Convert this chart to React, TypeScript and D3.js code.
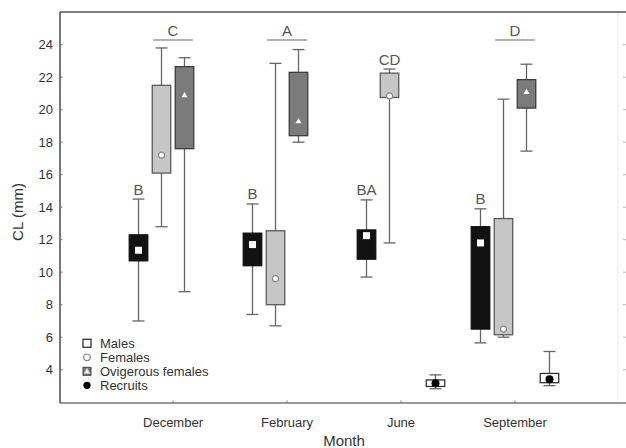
import React from "react";
import * as d3 from "d3";

const months = ["December", "February", "June", "September"];
const seriesNames = ["Males", "Females", "Ovigerous females", "Recruits"];
const yTicks = [4, 6, 8, 10, 12, 14, 16, 18, 20, 22, 24];

// per series: [min, q1, mean, q3, max] per month (null = absent)
const males = [
  [7.0, 10.7, 11.35, 12.3, 14.5],
  [7.4, 10.4, 11.7, 12.4, 14.2],
  [9.7, 10.8, 12.25, 12.6, 14.45],
  [5.65, 6.5, 11.8, 12.8, 13.9],
];
const females = [
  [12.8, 16.1, 17.2, 21.5, 23.8],
  [6.7, 8.0, 9.6, 12.55, 22.85],
  [11.8, 20.75, 20.85, 22.25, 22.5],
  [6.0, 6.15, 6.5, 13.3, 20.65],
];
const ovigerous = [
  [8.8, 17.6, 20.9, 22.65, 23.2],
  [18.0, 18.4, 19.3, 22.3, 23.7],
  null,
  [17.45, 20.1, 21.1, 21.85, 22.8],
];
const recruits = [
  null,
  null,
  [2.83, 2.97, 3.16, 3.37, 3.68],
  [3.02, 3.2, 3.41, 3.77, 5.12],
];

// letters over single boxes: [monthIndex, seriesIndex, text]
const boxLetters: [number, number, string][] = [
  [0, 0, "B"],
  [1, 0, "B"],
  [2, 0, "BA"],
  [3, 0, "B"],
  [2, 1, "CD"],
];
// group letters with bar: [monthIndex, text]
const groupLetters: [number, string][] = [
  [0, "C"],
  [1, "A"],
  [3, "D"],
];

const W = 626;
const H = 448;
const left = 60;
const right = 618;
const top = 12;
const bottom = 403;

const styles = [
  { fill: "#121212", stroke: "#111", marker: "square" },
  { fill: "#c6c6c6", stroke: "#5a5a5a", marker: "circle" },
  { fill: "#7b7b7b", stroke: "#3c3c3c", marker: "triangle" },
  { fill: "#ffffff", stroke: "#333", marker: "dot" },
];

const allSeries = [males, females, ovigerous, recruits];

function Marker({ type, x, y, legend }: { type: string; x: number; y: number; legend?: boolean }) {
  if (type === "square") {
    const s = legend ? 8 : 7;
    return (
      <rect x={x - s / 2} y={y - s / 2} width={s} height={s} fill="#fff" stroke={legend ? "#333" : "none"} strokeWidth={1.3} />
    );
  }
  if (type === "circle") {
    return <circle cx={x} cy={y} r={legend ? 3.3 : 3} fill="#fff" stroke="#888" strokeWidth={1.2} />;
  }
  if (type === "triangle") {
    const s = 3;
    return (
      <g>
        {legend && <rect x={x - 4} y={y - 4} width={8} height={8} fill="#777" stroke="#444" strokeWidth={1} />}
        <path d={`M${x},${y - s}L${x + s},${y + s * 0.7}L${x - s},${y + s * 0.7}Z`} fill="#fff" stroke={legend ? "#bbb" : "none"} strokeWidth={0.8} />
      </g>
    );
  }
  return <circle cx={x} cy={y} r={legend ? 3.6 : 4} fill="#000" />;
}

export default function App() {
  const y = d3.scaleLinear().domain([2, 26]).range([bottom + 0.1, top + 0.1]);
  // scale check: 24 -> ~44.7
  const yv = d3.scaleLinear().domain([4, 24]).range([369.7, 44.7]);
  const x = d3.scalePoint<string>().domain(months).range([173, 515]);
  const xs = d3.scaleBand<string>().domain(seriesNames).range([-46, 46]);
  const bw = 18.5;
  const capW = 12;
  const font = "'Liberation Sans', Arial, sans-serif";

  return (
    <svg width={W} height={H} style={{ position: "absolute", left: 0, top: 0, background: "#fff" }} fontFamily={font}>
      <rect x={0} y={0} width={W} height={H} fill="#fff" />
      {/* frame */}
      <line x1={right} x2={right} y1={top} y2={bottom} stroke="#ececec" strokeWidth={1} />
      <line x1={left} x2={W} y1={top} y2={top} stroke="#555" strokeWidth={1.6} />
      <line x1={left} x2={W} y1={bottom} y2={bottom} stroke="#777" strokeWidth={1.6} />
      <line x1={left} x2={left} y1={top} y2={bottom} stroke="#555" strokeWidth={1.6} />
      {/* y ticks */}
      {yTicks.map((t) => (
        <g key={t}>
          <line x1={left} x2={left + 2.5} y1={yv(t)} y2={yv(t)} stroke="#777" strokeWidth={1} />
          <line x1={right + 5} x2={right + 8} y1={yv(t)} y2={yv(t)} stroke="#bbb" strokeWidth={1} />
          <text x={53} y={yv(t)} dy="0.35em" textAnchor="end" fontSize={13} fill="#333">
            {t}
          </text>
        </g>
      ))}
      {/* x ticks */}
      {months.map((m) => (
        <g key={m}>
          <line x1={x(m)!} x2={x(m)!} y1={bottom} y2={bottom - 2.5} stroke="#777" strokeWidth={1} />
          <text x={x(m)!} y={427} textAnchor="middle" fontSize={13} fill="#333">
            {m}
          </text>
        </g>
      ))}
      <text x={344} y={446} textAnchor="middle" fontSize={15} fill="#333">
        Month
      </text>
      <text transform={`translate(23,${212}) rotate(-90)`} textAnchor="middle" fontSize={15} fill="#333">
        CL (mm)
      </text>

      {/* boxes */}
      {allSeries.map((ser, si) =>
        ser.map((v, mi) => {
          if (!v) return null;
          const [mn, q1, mean, q3, mx] = v;
          const cx = x(months[mi])! + xs(seriesNames[si])! + xs.bandwidth() / 2;
          const st = styles[si];
          return (
            <g key={`${si}-${mi}`}>
              <line x1={cx} x2={cx} y1={yv(mx)} y2={yv(mn)} stroke="#666" strokeWidth={1.3} />
              <line x1={cx - capW / 2} x2={cx + capW / 2} y1={yv(mx)} y2={yv(mx)} stroke="#666" strokeWidth={1.3} />
              <line x1={cx - capW / 2} x2={cx + capW / 2} y1={yv(mn)} y2={yv(mn)} stroke="#666" strokeWidth={1.3} />
              <rect x={cx - bw / 2} y={yv(q3)} width={bw} height={yv(q1) - yv(q3)} fill={st.fill} stroke={st.stroke} strokeWidth={1.3} />
              <Marker type={st.marker} x={cx} y={yv(mean)} />
            </g>
          );
        })
      )}

      {/* letters */}
      {boxLetters.map(([mi, si, t]) => {
        const cx = x(months[mi])! + xs(seriesNames[si])! + xs.bandwidth() / 2;
        const v = allSeries[si][mi]!;
        return (
          <text key={`${mi}-${t}`} x={cx} y={yv(v[4]) - 4.5} textAnchor="middle" fontSize={15} fill="#555">
            {t}
          </text>
        );
      })}
      {groupLetters.map(([mi, t]) => {
        const cx = x(months[mi])!;
        return (
          <g key={t}>
            <line x1={cx - 20} x2={cx + 20} y1={40} y2={40} stroke="#999" strokeWidth={1.5} />
            <text x={cx} y={36} textAnchor="middle" fontSize={15} fill="#555">
              {t}
            </text>
          </g>
        );
      })}

      {/* legend */}
      {seriesNames.map((s, i) => {
        const ly = 343.3 + i * 14;
        return (
          <g key={s}>
            <Marker type={styles[i].marker} x={87} y={ly} legend />
            <text x={100} y={ly} dy="0.36em" fontSize={13} fill="#333">
              {s}
            </text>
          </g>
        );
      })}
    </svg>
  );
}
